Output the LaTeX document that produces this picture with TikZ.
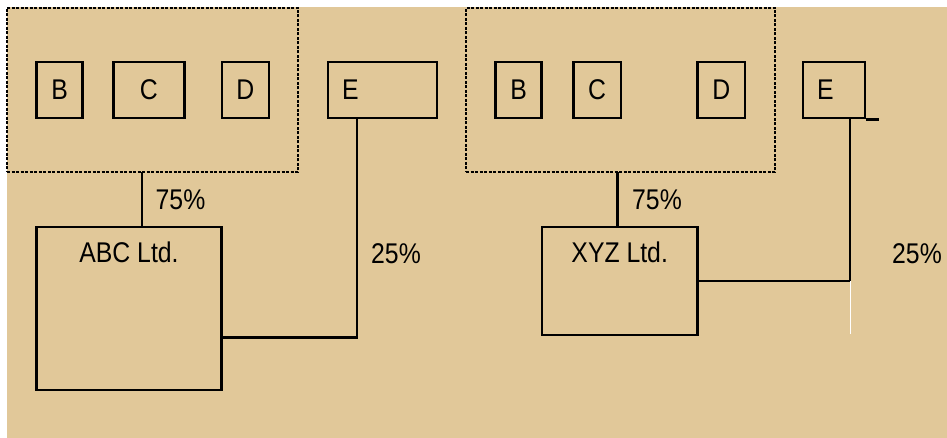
\documentclass[tikz,border=0pt]{standalone}
\usepackage{fontspec}
\setmainfont{Liberation Sans}[FakeStretch=0.87]
\usetikzlibrary{positioning}
\definecolor{sand}{RGB}{225,200,153}

\begin{document}
\begin{tikzpicture}[
					x=1pt, y=-1pt,
					font=\fontsize{28.5}{30}\selectfont,
					unit/.style={draw, line width=2.6pt, minimum height=56pt, inner sep=0pt},
					holder/.style={draw, line width=2.6pt, inner sep=0pt},
					group/.style={draw, dash pattern=on 3pt off 1.5pt, line width=1.2pt, minimum height=164pt},
					share/.style={anchor=base, inner sep=0pt},
					link/.style={line width=2.6pt}
					]
					\useasboundingbox (0,0) rectangle (947,438);
					\fill[sand] (7,7) rectangle (947,438);

					% Nodes
					\node [group, minimum width=291pt] (grpL) at (152.5,90) {};
					\node [unit, minimum width=46pt] (BL) at (59.7,90) {B};
					\node [unit, minimum width=71pt, right=28pt of BL] (CL) {C};
					\node [unit, minimum width=47pt] (DL) at (245.3,90) {D};
					\node [unit, minimum width=109pt, text width=81pt, inner xsep=14pt, align=left] (EL) at (382.5,90) {E};

					\node [group, minimum width=309pt] (grpR) at (620.5,90) {};
					\node [unit, minimum width=46pt] (BR) at (518.7,90) {B};
					\node [unit, minimum width=47.5pt, right=29pt of BR] (CR) {C};
					\node [unit, minimum width=47.3pt] (DR) at (721.3,90) {D};
					\node [unit, minimum width=62pt, text width=34pt, inner xsep=14pt, align=left] (ER) at (834,90) {E};

					% Companies
					\node [holder, minimum width=185pt, minimum height=163pt,
						label={[anchor=base, yshift=-37pt]north:ABC Ltd.}] (ABC) at (129,308.5) {};
					\node [holder, minimum width=155.5pt, minimum height=108pt,
						label={[anchor=base, yshift=-37pt]north:XYZ Ltd.}] (XYZ) at (619.7,281) {};

					\coordinate (tapL) at (142,172);
					\coordinate (tapR) at (617.7,172);

					% Edges
					\draw [link] (tapL) -- (tapL |- ABC.north);
					\draw [link] ([yshift=54pt]ABC.south east) -| ([xshift=-25.5pt]EL.south);
					\draw [link] (tapR) -- (tapR |- XYZ.north);
					\draw [link] (XYZ.east) -| ([xshift=16pt]ER.south);
					\draw [link] (ER.south east) -- ++(13,0);
					\draw [white, line width=1pt] ([xshift=16pt]ER.south |- XYZ.east) -- ++(0,53);

					% Shares
					\node [share] (pL75) at (180.5,210) {75\%};
					\node [share] (pL25) at (396,264) {25\%};
					\node [share] (pR75) at (657,210) {75\%};
					\node [share] (pR25) at (917,264) {25\%};
				\end{tikzpicture}
\end{document}
